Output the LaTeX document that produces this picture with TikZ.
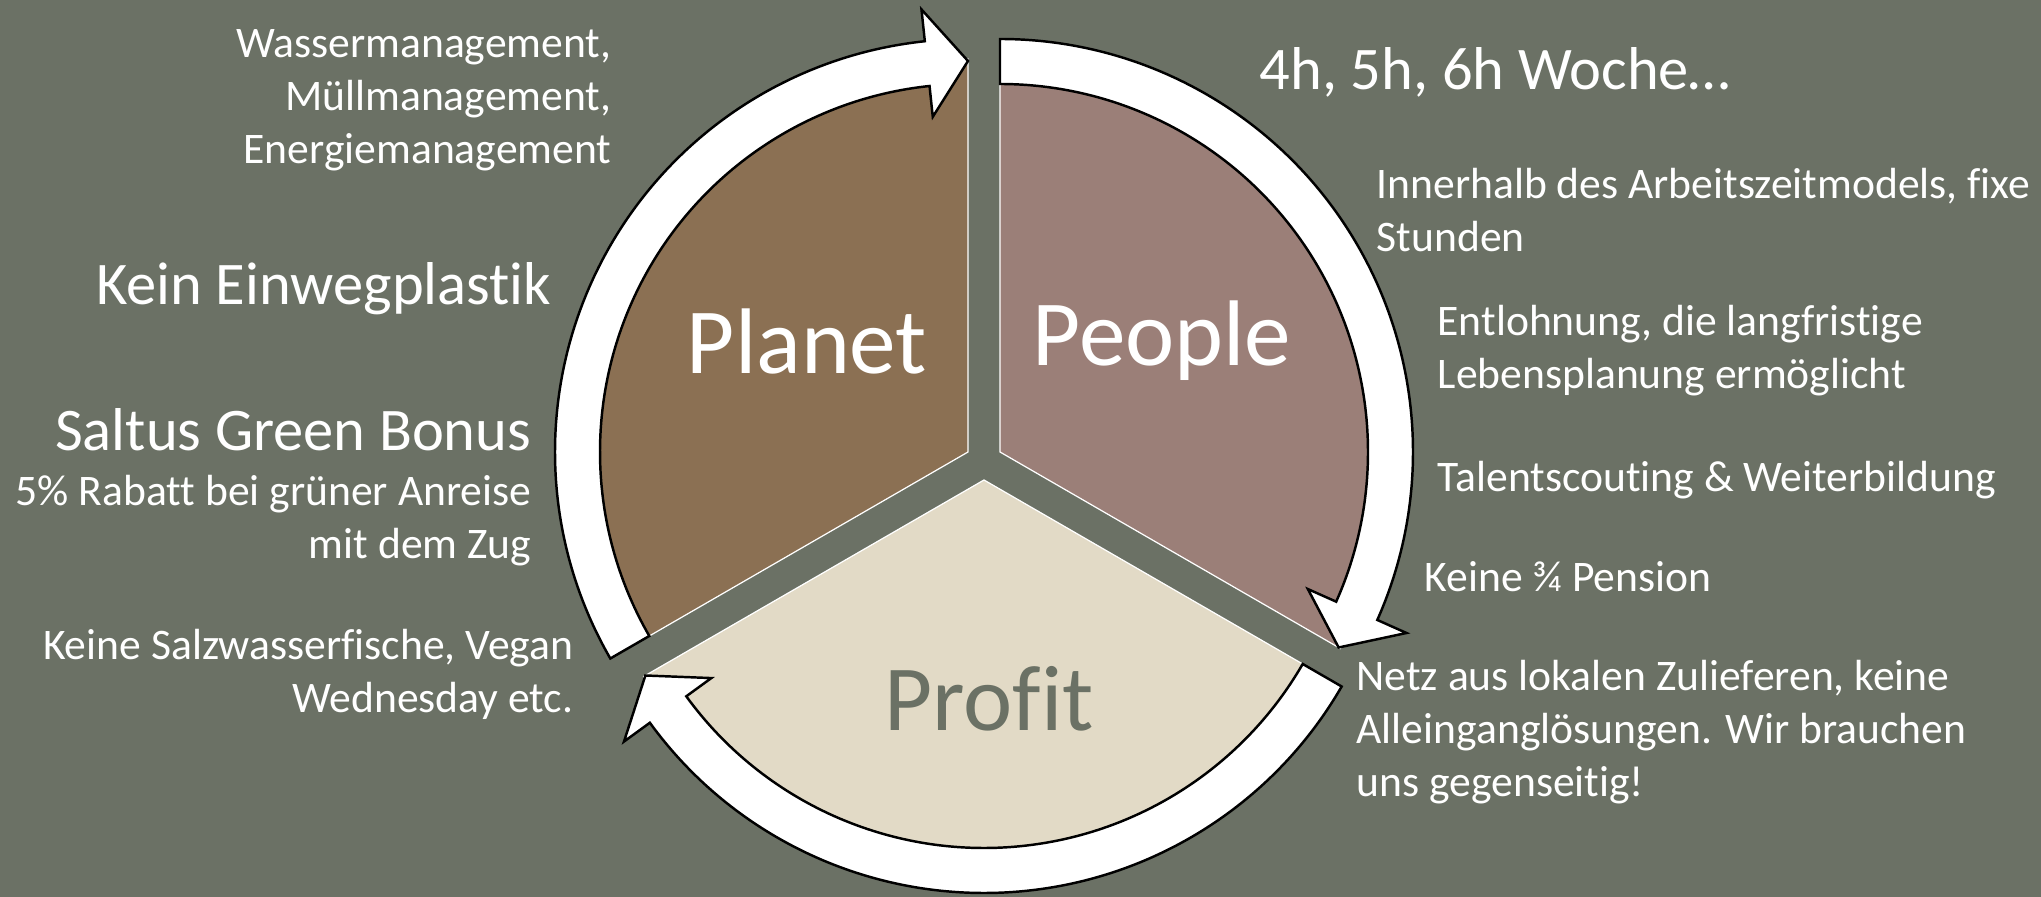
\documentclass[tikz,border=0pt]{standalone}
\usepackage{fontspec}
\setmainfont{Carlito}[Ligatures={NoCommon}]
\usepackage{tikz}
\definecolor{bgGrey}{RGB}{107,113,101}
\definecolor{planetBrown}{RGB}{139,112,83}
\definecolor{peopleRose}{RGB}{155,127,120}
\definecolor{profitSand}{RGB}{226,218,198}

\begin{document}
\begin{tikzpicture}[x=0.01cm, y=0.01cm,
  sector/.style={draw=white, line width=0.35pt},
  ringarrow/.style={fill=white, draw=black, line width=0.7pt, line join=miter},
  note/.style={text=white, inner sep=0pt, font=\fontsize{12.4}{15.1}\selectfont},
  bignote/.style={text=white, inner sep=0pt, font=\fontsize{17.2}{20.5}\selectfont},
  pielabel/.style={inner sep=0pt, font=\fontsize{26.5}{30}\selectfont}]
% background and frame
\fill[bgGrey] (0,0) rectangle (2041,897);
\useasboundingbox (0,0) rectangle (2041,897);

\coordinate (planetC) at (968,445);
\coordinate (peopleC) at (1000,445);
\coordinate (profitC) at (984,417);

% the three pie pieces
\filldraw[sector, fill=planetBrown] (planetC) -- ++(90:393) arc[start angle=90, end angle=210, radius=393] -- cycle;
\filldraw[sector, fill=peopleRose] (peopleC) -- ++(-30:393) arc[start angle=-30, end angle=90, radius=393] -- cycle;
\filldraw[sector, fill=profitSand] (profitC) -- ++(210:393) arc[start angle=210, end angle=330, radius=393] -- cycle;

% curved arrows around the pieces
\begin{scope}[shift={(planetC)}]
\filldraw[ringarrow] (210:413) arc[start angle=210, end angle=96, radius=413] -- (96:445) -- (90:391) -- (96:337) -- (96:368) arc[start angle=96, end angle=210, radius=368] -- cycle;
\end{scope}
\begin{scope}[shift={(peopleC)}]
\filldraw[ringarrow] (90:413) arc[start angle=90, end angle=-24, radius=413] -- (-24:445) -- (-30:391) -- (-24:337) -- (-24:368) arc[start angle=-24, end angle=90, radius=368] -- cycle;
\end{scope}
\begin{scope}[shift={(profitC)}]
\filldraw[ringarrow] (-30:413) arc[start angle=-30, end angle=-144, radius=413] -- (-144:445) -- (-150:391) -- (-144:337) -- (-144:368) arc[start angle=-144, end angle=-30, radius=368] -- cycle;
\end{scope}

% labels of the pieces
\node[pielabel, text=white] (planet) at (807,556) {Planet};
\node[pielabel, text=white] (people) at (1162,556) {People};
\node[pielabel, text=bgGrey] (profit) at (989,198) {Profit};

% notes on the left
\node[note, anchor=east, align=right] (water) at (612,797) {Wassermanagement,\\Müllmanagement,\\Energiemanagement};
\node[bignote, anchor=east] (plastic) at (552,608) {Kein Einwegplastik};
\node[bignote, anchor=east] (bonus) at (532,467) {Saltus Green Bonus};
\node[note, anchor=east, align=right] (rabatt) at (532,376) {5\% Rabatt bei grüner Anreise\\mit dem Zug};
\node[note, anchor=east, align=right] (fish) at (574,223) {Keine Salzwasserfische, Vegan\\Wednesday etc.};

% notes on the right
\node[bignote, anchor=west] (week) at (1259,825) {4h, 5h, 6h Woche…};
\node[note, anchor=west, align=left] (hours) at (1376,687) {Innerhalb des Arbeitszeitmodels, fixe\\Stunden};
\node[note, anchor=west, align=left] (pay) at (1437,546) {Entlohnung, die langfristige\\Lebensplanung ermöglicht};
\node[note, anchor=west] (talent) at (1437,417) {Talentscouting \& Weiterbildung};
\node[note, anchor=west] (pension) at (1424,320) {Keine ¾ Pension};
\node[note, anchor=west, align=left] (net) at (1356,165) {Netz aus lokalen Zulieferen, keine\\Alleinganglösungen. Wir brauchen\\uns gegenseitig!};
\end{tikzpicture}
\end{document}
